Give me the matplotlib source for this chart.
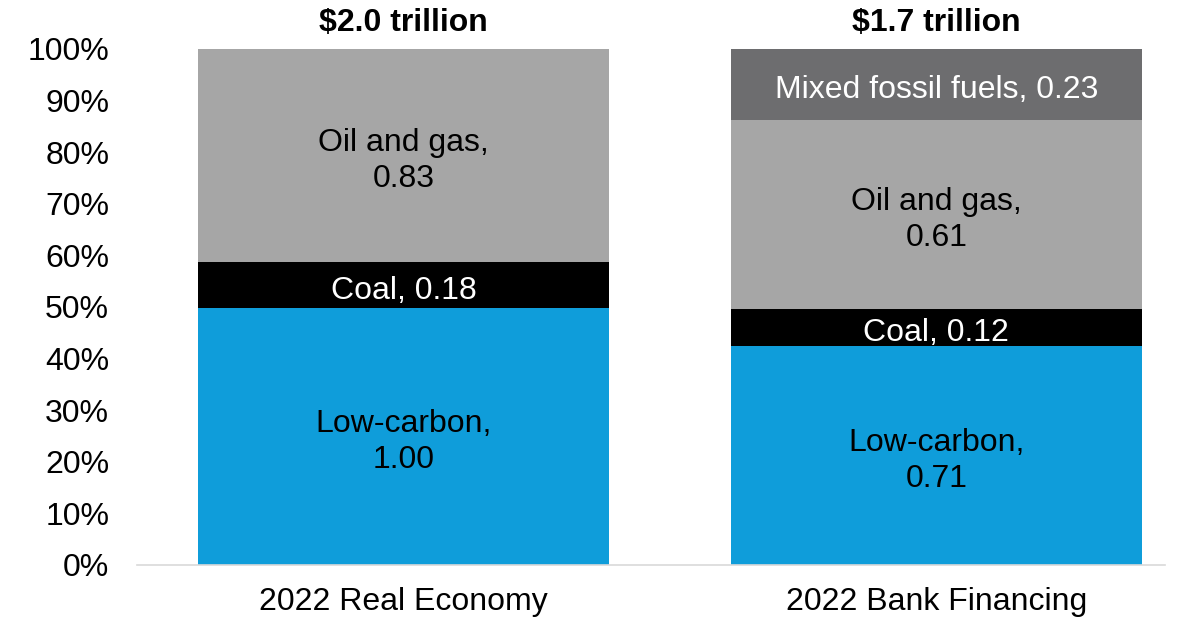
import matplotlib.pyplot as plt
import numpy as np

plt.rcParams['font.family'] = ['Liberation Sans', 'DejaVu Sans']

categories = ['2022 Real Economy', '2022 Bank Financing']
totals_label = ['$2.0 trillion', '$1.7 trillion']
segments = ['Low-carbon', 'Coal', 'Oil and gas', 'Mixed fossil fuels']
low_carbon = [1.00, 0.71]
coal = [0.18, 0.12]
oil_gas = [0.83, 0.61]
mixed = [0.0, 0.23]

colors = ['#0f9dda', '#000000', '#a6a6a6', '#6d6d6f']
text_colors = ['black', 'white', 'black', 'white']
two_line = [True, False, True, False]

values = np.array([low_carbon, coal, oil_gas, mixed])
shares = values / values.sum(axis=0)

fig = plt.figure(figsize=(11.88, 6.2), dpi=100)
ax = fig.add_axes([137/1188, 55/620, (1165-137)/1188, (565-49)/620])

x = np.arange(len(categories))
width = 0.771
bottom = np.zeros(len(categories))
for i, name in enumerate(segments):
    ax.bar(x, shares[i], width, bottom=bottom, color=colors[i], linewidth=0)
    for j in range(len(categories)):
        if values[i, j] <= 0:
            continue
        sep = ',\n' if two_line[i] else ', '
        label = '%s%s%.2f' % (name, sep, values[i, j])
        ax.annotate(label, (x[j], bottom[j] + shares[i, j] / 2), xytext=(0, -4),
                    textcoords='offset points', ha='center', va='center',
                    fontsize=23, color=text_colors[i], linespacing=1.25)
    bottom += shares[i]

for j in range(len(categories)):
    ax.annotate(totals_label[j], (x[j], bottom[j]), xytext=(0, 19), textcoords='offset points',
                ha='center', va='center', fontsize=23, fontweight='bold')

ax.set_xlim(-0.5, 1.429)
ax.set_ylim(0, 1)
ax.set_yticks(np.arange(0, 1.01, 0.1))
ax.set_yticklabels(['%d%%' % v for v in range(0, 101, 10)])
ax.set_xticks(x)
ax.set_xticklabels(categories)
ax.tick_params(axis='both', length=0, labelsize=23)
ax.tick_params(axis='x', pad=16)
ax.tick_params(axis='y', pad=20)
for s in ['top', 'right', 'left']:
    ax.spines[s].set_visible(False)
ax.spines['bottom'].set_color('#d9d9d9')
ax.spines['bottom'].set_linewidth(1.2)

plt.savefig('out.png', dpi=100)
